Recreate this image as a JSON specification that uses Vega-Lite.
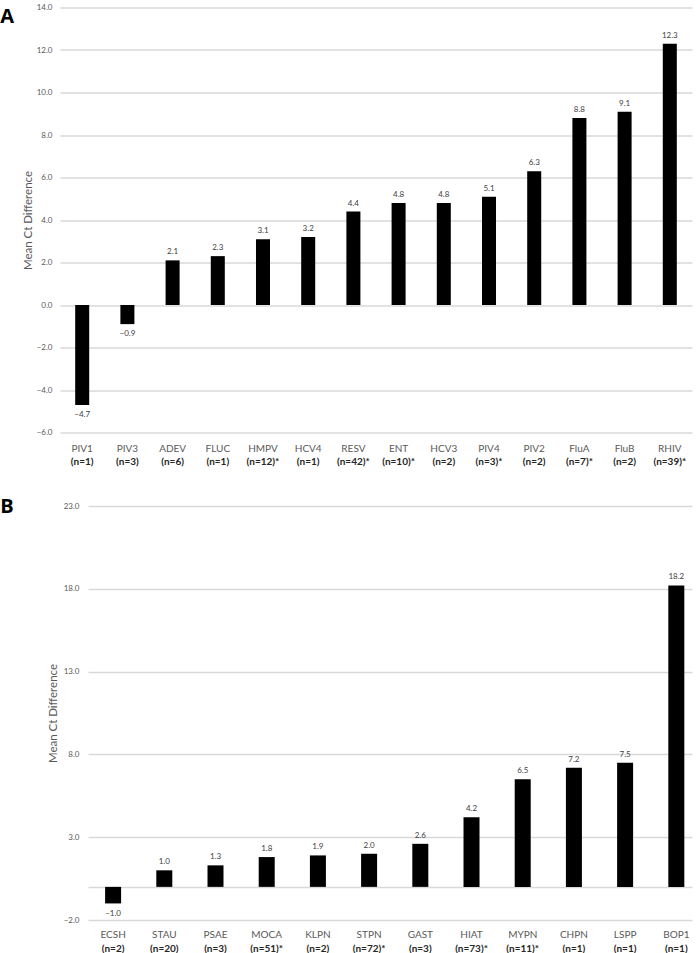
{
  "$schema": "https://vega.github.io/schema/vega-lite/v6.json",
  "background": "#ffffff",
  "padding": {"left": 0, "top": 3.5, "right": 8, "bottom": 0},
  "spacing": 30.5,
  "config": {
    "view": {"stroke": null},
    "font": "Lato",
    "axis": {"domain": false, "ticks": false, "tickSize": 0, "labelFont": "Lato", "titleFont": "Lato"}
  },
  "vconcat": [
    {
      "width": 632,
      "height": 425,
      "title": {"text": "A", "anchor": "start", "frame": "bounds", "font": "Open Sans", "fontSize": 20, "fontWeight": "bold", "color": "#000000", "offset": -23, "dx": -22},
      "data": {"values": [
        {"pathogen": "PIV1", "n": "(n=1)", "value": -4.7},
        {"pathogen": "PIV3", "n": "(n=3)", "value": -0.9},
        {"pathogen": "ADEV", "n": "(n=6)", "value": 2.1},
        {"pathogen": "FLUC", "n": "(n=1)", "value": 2.3},
        {"pathogen": "HMPV", "n": "(n=12)*", "value": 3.1},
        {"pathogen": "HCV4", "n": "(n=1)", "value": 3.2},
        {"pathogen": "RESV", "n": "(n=42)*", "value": 4.4},
        {"pathogen": "ENT", "n": "(n=10)*", "value": 4.8},
        {"pathogen": "HCV3", "n": "(n=2)", "value": 4.8},
        {"pathogen": "PIV4", "n": "(n=3)*", "value": 5.1},
        {"pathogen": "PIV2", "n": "(n=2)", "value": 6.3},
        {"pathogen": "FluA", "n": "(n=7)*", "value": 8.8},
        {"pathogen": "FluB", "n": "(n=2)", "value": 9.1},
        {"pathogen": "RHIV", "n": "(n=39)*", "value": 12.3}
      ]},
      "transform": [{"calculate": "datum.pathogen + '|' + datum.n", "as": "key"}],
      "encoding": {
        "y": {"field": "value", "type": "quantitative",
          "scale": {"domain": [-6, 14], "nice": false},
          "axis": {"values": [-6, -4, -2, 0, 2, 4, 6, 8, 10, 12, 14], "format": ".1f", "title": "Mean Ct Difference", "titleFontSize": 11.5, "titleFontWeight": "normal", "titleColor": "#595959", "titlePadding": 3, "labelFontSize": 8, "labelColor": "#595959", "labelPadding": 8, "grid": true, "gridColor": "#d9d9d9", "gridWidth": 1.3}}
      },
      "layer": [
        {
          "mark": {"type": "bar", "color": "#000000"},
          "encoding": {
            "x": {"field": "key", "type": "nominal", "sort": null,
              "scale": {"paddingInner": 0.69, "paddingOuter": 0.336},
              "axis": {"orient": "bottom", "title": null, "labelExpr": "split(datum.label, '|')[0]", "labelAngle": 0, "labelFontSize": 10, "labelColor": "#595959", "labelPadding": 11, "labelOverlap": false, "grid": false}}
          }
        },
        {
          "mark": {"type": "text", "font": "Lato", "fontSize": 8, "color": "#404040",
            "baseline": {"expr": "datum.value < 0 ? 'top' : 'bottom'"},
            "dy": {"expr": "datum.value < 0 ? 6 : -4"}},
          "encoding": {
            "x": {"field": "key", "type": "nominal", "sort": null,
              "axis": {"orient": "bottom", "offset": 13, "title": null, "labelExpr": "split(datum.label, '|')[1]", "labelAngle": 0, "labelFontSize": 10, "labelFontWeight": "bold", "labelColor": "#262626", "labelPadding": 11, "labelOverlap": false, "grid": false}},
            "text": {"field": "value", "type": "quantitative", "format": ".1f"}
          }
        }
      ],
      "resolve": {"axis": {"x": "independent"}}
    },
    {
      "width": 632,
      "height": 414,
      "title": {"text": "B", "anchor": "start", "frame": "bounds", "font": "Open Sans", "fontSize": 20, "fontWeight": "bold", "color": "#000000", "offset": -15, "dx": -47},
      "data": {"values": [
        {"pathogen": "ECSH", "n": "(n=2)", "value": -1.0},
        {"pathogen": "STAU", "n": "(n=20)", "value": 1.0},
        {"pathogen": "PSAE", "n": "(n=3)", "value": 1.3},
        {"pathogen": "MOCA", "n": "(n=51)*", "value": 1.8},
        {"pathogen": "KLPN", "n": "(n=2)", "value": 1.9},
        {"pathogen": "STPN", "n": "(n=72)*", "value": 2.0},
        {"pathogen": "GAST", "n": "(n=3)", "value": 2.6},
        {"pathogen": "HIAT", "n": "(n=73)*", "value": 4.2},
        {"pathogen": "MYPN", "n": "(n=11)*", "value": 6.5},
        {"pathogen": "CHPN", "n": "(n=1)", "value": 7.2},
        {"pathogen": "LSPP", "n": "(n=1)", "value": 7.5},
        {"pathogen": "BOP1", "n": "(n=1)", "value": 18.2}
      ]},
      "transform": [{"calculate": "datum.pathogen + '|' + datum.n", "as": "key"}],
      "encoding": {
        "y": {"field": "value", "type": "quantitative",
          "scale": {"domain": [-2, 23], "nice": false},
          "axis": {"values": [-2, 0, 3, 8, 13, 18, 23], "labelExpr": "datum.value === 0 ? '' : format(datum.value, '.1f')", "offset": -28, "title": "Mean Ct Difference", "titleFontSize": 11.5, "titleFontWeight": "normal", "titleColor": "#595959", "titlePadding": 5, "labelFontSize": 8, "labelColor": "#595959", "labelPadding": 9, "grid": true, "gridColor": "#d9d9d9", "gridWidth": 1.3}}
      },
      "layer": [
        {
          "mark": {"type": "bar", "color": "#000000"},
          "encoding": {
            "x": {"field": "key", "type": "nominal", "sort": null,
              "scale": {"range": [28, 632], "paddingInner": 0.6875, "paddingOuter": 0.242, "align": 0.69},
              "axis": {"orient": "bottom", "title": null, "labelExpr": "split(datum.label, '|')[0]", "labelAngle": 0, "labelFontSize": 10, "labelColor": "#595959", "labelPadding": 9, "labelOverlap": false, "grid": false}}
          }
        },
        {
          "mark": {"type": "text", "font": "Lato", "fontSize": 8, "color": "#404040",
            "baseline": {"expr": "datum.value < 0 ? 'top' : 'bottom'"},
            "dy": {"expr": "datum.value < 0 ? 7 : -4"}},
          "encoding": {
            "x": {"field": "key", "type": "nominal", "sort": null,
              "axis": {"orient": "bottom", "offset": 14, "title": null, "labelExpr": "split(datum.label, '|')[1]", "labelAngle": 0, "labelFontSize": 10, "labelFontWeight": "bold", "labelColor": "#262626", "labelPadding": 9, "labelOverlap": false, "grid": false}},
            "text": {"field": "value", "type": "quantitative", "format": ".1f"}
          }
        }
      ],
      "resolve": {"axis": {"x": "independent"}}
    }
  ]
}
